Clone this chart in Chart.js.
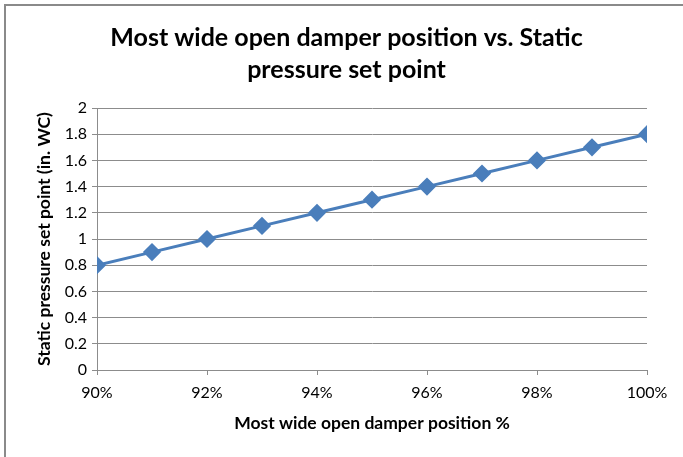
<!DOCTYPE html>
<html>
<head>
<meta charset="utf-8">
<script src="https://cdn.jsdelivr.net/npm/chart.js@4/dist/chart.umd.min.js"></script>
<style>
  html, body { margin: 0; padding: 0; background: #fff; }
  #wrap { position: relative; width: 683px; height: 457px; }
  #frame { position: absolute; left: 4px; top: 4px; width: 690px; height: 460px;
           border-top: 2px solid #8a8a8a; border-left: 2px solid #8a8a8a; box-sizing: border-box; }
  canvas { position: absolute; left: 0; top: 0; }
</style>
</head>
<body>
<div id="wrap">
  <div id="frame"></div>
  <canvas id="myChart" width="683" height="457"></canvas>
</div>
<script>
// damper position (%) vs static pressure set point (in. WC)
const damperPos = [90, 91, 92, 93, 94, 95, 96, 97, 98, 99, 100];
const pressure = [0.8, 0.9, 1.0, 1.1, 1.2, 1.3, 1.4, 1.5, 1.6, 1.7, 1.8];

const titleText = ['Most wide open damper position vs. Static', 'pressure set point'];
const xTitle = 'Most wide open damper position %';
const yTitle = 'Static pressure set point (in. WC)';

const gridGray = '#8c8c8c';
const font = 'Lato, "Open Sans", sans-serif';

// centre the title over the whole picture, not just the plot
const titleCentre = {
  id: 'titleCentre',
  afterLayout(chart) {
    if (chart.titleBlock) {
      chart.titleBlock.left = 10;
      chart.titleBlock.right = 683;
    }
  }
};

new Chart(document.getElementById('myChart').getContext('2d'), {
  type: 'line',
  data: {
    datasets: [{
      data: damperPos.map((x, i) => ({ x: x, y: pressure[i] })),
      borderColor: '#4a7ebb',
      backgroundColor: '#4a7ebb',
      borderWidth: 3,
      pointStyle: 'rectRot',
      pointRadius: 7,
      pointHoverRadius: 7,
      tension: 0
    }]
  },
  options: {
    responsive: false,
    animation: false,
    layout: { padding: { left: 0, right: 36, top: 0, bottom: 0 } },
    plugins: {
      legend: { display: false },
      tooltip: { enabled: false },
      title: {
        display: true,
        text: titleText,
        color: '#000',
        font: { family: font, size: 25, weight: 'bold', lineHeight: 1.28 },
        padding: { top: 22, bottom: 22 }
      }
    },
    scales: {
      x: {
        type: 'linear',
        min: 90,
        max: 100,
        afterFit: s => { s.height = 87; },
        ticks: {
          stepSize: 2,
          color: '#000',
          font: { family: font, size: 16 },
          padding: 8,
          maxRotation: 0,
          callback: v => v + '%'
        },
        grid: { drawOnChartArea: false, drawTicks: true, tickLength: 5, color: gridGray },
        border: { display: true, color: gridGray, width: 1 },
        title: {
          display: true,
          text: xTitle,
          color: '#000',
          font: { family: font, size: 17.5, weight: 'bold', lineHeight: 1.2 },
          padding: { top: 0, bottom: 23.5 }
        }
      },
      y: {
        min: 0,
        max: 2,
        afterFit: s => { s.width = 97; },
        ticks: {
          stepSize: 0.2,
          color: '#000',
          font: { family: font, size: 16 },
          padding: 5,
          callback: v => Math.round(v * 10) / 10
        },
        grid: { color: gridGray, tickLength: 5 },
        border: { display: true, color: gridGray, width: 1 },
        title: {
          display: true,
          text: yTitle,
          color: '#000',
          font: { family: font, size: 17.5, weight: 'bold', lineHeight: 1.2 },
          padding: { top: 33.5, bottom: 0 }
        }
      }
    }
  },
  plugins: [titleCentre]
});
</script>
</body>
</html>
